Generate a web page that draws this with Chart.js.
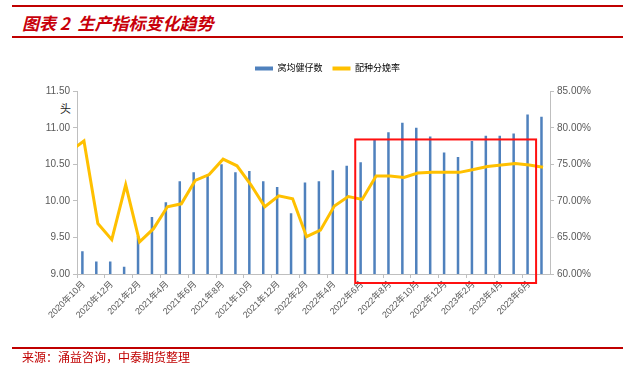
<!DOCTYPE html>
<html>
<head>
<meta charset="utf-8">
<script src="https://cdn.jsdelivr.net/npm/chart.js@4.4.1/dist/chart.umd.min.js"></script>
<style>
body { margin: 0; background: #fff; }
#wrap { position: relative; width: 635px; height: 370px; font-family: 'Noto Sans CJK SC', sans-serif; }
#wrap canvas { position: absolute; left: 0; top: 0; }
.rule { position: absolute; left: 12px; width: 611px; background: #c00000; }
#title { position: absolute; left: 22px; top: 14px; font-size: 17px; line-height: 17px; font-weight: bold; font-style: italic; color: #c8000a; white-space: pre; }
#source { position: absolute; left: 22px; top: 351px; font-size: 12px; line-height: 12px; color: #c00000; }
#unit { position: absolute; left: 60px; top: 103px; font-size: 11px; line-height: 11px; color: #222; }
</style>
</head>
<body>
<div id="wrap">
  <div class="rule" style="top:5px;height:2px"></div>
  <div id="title">图表 2  生产指标变化趋势</div>
  <div class="rule" style="top:36px;height:2px"></div>
  <div id="unit">头</div>
  <canvas id="myChart" width="635" height="370"></canvas>
  <div class="rule" style="top:347px;height:2px"></div>
  <div id="source">来源：涌益咨询，中泰期货整理</div>
</div>
<script>
let months = [
    '2020年10月', '2020年11月', '2020年12月', '2021年1月', '2021年2月', '2021年3月',
    '2021年4月', '2021年5月', '2021年6月', '2021年7月', '2021年8月', '2021年9月',
    '2021年10月', '2021年11月', '2021年12月', '2022年1月', '2022年2月', '2022年3月',
    '2022年4月', '2022年5月', '2022年6月', '2022年7月', '2022年8月', '2022年9月',
    '2022年10月', '2022年11月', '2022年12月', '2023年1月', '2023年2月', '2023年3月',
    '2023年4月', '2023年5月', '2023年6月', '2023年7月'
];

// 窝均健仔数 (头)
let litter_size = [
    9.31, 9.17, 9.17, 9.10, 9.52, 9.78, 9.98, 10.27, 10.39, 10.36, 10.50, 10.39,
    10.41, 10.27, 10.19, 9.83, 10.25, 10.27, 10.42, 10.48, 10.53, 10.84, 10.94, 11.07,
    11.00, 10.88, 10.66, 10.60, 10.82, 10.89, 10.89, 10.92, 11.18, 11.15
];

// 配种分娩率 (%), the line comes in from the month before the first bar
let prev_rate = 76.8;
let farrowing_rate = [
    78.2, 66.9, 64.7, 72.2, 64.4, 66.2, 69.2, 69.6, 72.8, 73.6, 75.7, 74.8,
    72.2, 69.2, 70.7, 70.3, 65.1, 66.0, 69.3, 70.6, 70.2, 73.4, 73.4, 73.2,
    73.8, 73.9, 73.9, 73.9, 74.3, 74.7, 74.9, 75.1, 74.9, 74.6
];

let left_ticks = [9, 11.5, 0.5];
let right_ticks = [60, 85, 5];

// highlighted months (index range) and top of the red box
let box_range = [19.5, 32.5];
let box_top = 10.84;

function ratePoints()
{
    let pts = [{x: -1, y: prev_rate}];
    for (let i = 0; i < farrowing_rate.length; i++) {
        pts.push({x: i, y: farrowing_rate[i]});
    }
    return pts;
}

const redBox = {
    id: 'redBox',
    afterDatasetsDraw(chart) {
        let ctx = chart.ctx;
        let xs = chart.scales.x2;
        let ys = chart.scales.y;
        let l = xs.getPixelForValue(box_range[0]);
        let r = xs.getPixelForValue(box_range[1]);
        let t = ys.getPixelForValue(box_top);
        let b = chart.chartArea.bottom + 9;
        ctx.save();
        ctx.strokeStyle = '#ff1010';
        ctx.lineWidth = 2;
        ctx.strokeRect(l, t, r - l, b - t);
        ctx.restore();
    }
};

const axisColor = '#bfbfbf';
const tickColor = '#595959';
const fontFam = "'Liberation Sans', 'Noto Sans CJK SC', sans-serif";

let config = {
    type: 'bar',
    data: {
        labels: months,
        datasets: [
            {
                type: 'bar',
                label: '窝均健仔数',
                data: litter_size,
                backgroundColor: '#4f81bd',
                xAxisID: 'x',
                yAxisID: 'y',
                barPercentage: 0.8,
                categoryPercentage: 0.45,
                order: 2
            },
            {
                type: 'line',
                label: '配种分娩率',
                data: ratePoints(),
                borderColor: '#ffc000',
                backgroundColor: '#ffc000',
                borderWidth: 3,
                pointRadius: 0,
                tension: 0,
                xAxisID: 'x2',
                yAxisID: 'y1',
                order: 1
            }
        ]
    },
    options: {
        responsive: false,
        animation: false,
        layout: {
            padding: {left: 20, right: 0, top: 54, bottom: 36}
        },
        plugins: {
            tooltip: {enabled: false},
            // empty spacer between legend and plot
            subtitle: {
                display: true,
                text: '',
                weight: 500,
                font: {size: 1},
                padding: {top: 0, bottom: 7}
            },
            legend: {
                position: 'top',
                labels: {
                    boxWidth: 18,
                    boxHeight: 4,
                    padding: 10,
                    color: '#333',
                    font: {family: fontFam, size: 9},
                    generateLabels(chart) {
                        return chart.data.datasets.map((ds, i) => ({
                            text: ds.label,
                            fillStyle: ds.type == 'bar' ? ds.backgroundColor : ds.borderColor,
                            strokeStyle: 'rgba(0,0,0,0)',
                            lineWidth: 0,
                            datasetIndex: i
                        }));
                    }
                }
            }
        },
        scales: {
            x: {
                type: 'category',
                offset: true,
                grid: {
                    offset: true,
                    drawOnChartArea: false,
                    tickLength: 4,
                    color: ctx => (ctx.index % 2 == 0) ? axisColor : 'rgba(0,0,0,0)'
                },
                border: {color: axisColor},
                ticks: {
                    autoSkip: false,
                    minRotation: 45,
                    maxRotation: 45,
                    padding: 1,
                    color: tickColor,
                    font: {family: fontFam, size: 9},
                    callback(value, index) {
                        return (index % 2 == 0) ? this.getLabelForValue(value) : '';
                    }
                },
                afterFit(scale) { scale.height = 60; }
            },
            x2: {
                type: 'linear',
                display: false,
                offset: false,
                grid: {offset: false},
                min: -0.5,
                max: months.length - 0.5
            },
            y: {
                position: 'left',
                min: left_ticks[0],
                max: left_ticks[1],
                grid: {drawOnChartArea: false, tickLength: 4, color: axisColor},
                border: {color: axisColor},
                ticks: {
                    stepSize: left_ticks[2],
                    padding: 3,
                    color: tickColor,
                    font: {family: fontFam, size: 10},
                    callback: v => v.toFixed(2)
                },
                afterFit(scale) { scale.width = 57; }
            },
            y1: {
                position: 'right',
                min: right_ticks[0],
                max: right_ticks[1],
                grid: {drawOnChartArea: false, tickLength: 4, color: axisColor},
                border: {color: axisColor},
                ticks: {
                    stepSize: right_ticks[2],
                    padding: 3,
                    color: tickColor,
                    font: {family: fontFam, size: 10},
                    callback: v => v.toFixed(2) + '%'
                },
                afterFit(scale) { scale.width = 85; }
            }
        }
    },
    plugins: [redBox]
};

window.chart = new Chart(document.getElementById('myChart'), config);
</script>
</body>
</html>
